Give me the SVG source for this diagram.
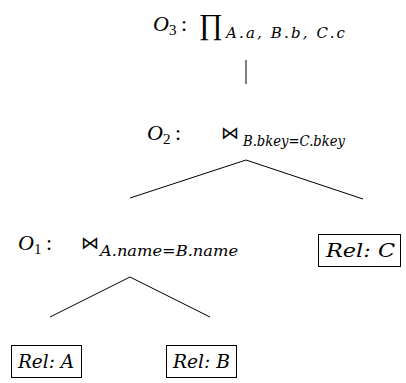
<svg xmlns="http://www.w3.org/2000/svg" width="406" height="383" viewBox="0 0 406 383">
  <style>
    text { font-family: "Liberation Serif", "DejaVu Serif", serif; fill: #000; }
    .op { font-size: 22px; font-style: italic; }
    .idx { font-size: 15px; }
    .col { font-size: 22px; }
    .sym { font-family: "DejaVu Serif", serif; font-size: 18px; }
    .prod { font-size: 29px; }
    .sub { font-family: "DejaVu Serif", serif; font-size: 15px; font-style: italic; }
    .rel { font-family: "DejaVu Serif", serif; font-size: 19px; font-style: italic; }
    .box { fill: #fff; stroke: #000; stroke-width: 1; }
    .edge { fill: none; stroke: #000; stroke-width: 1; }
  </style>

  <!-- connectors -->
  <g id="edges">
    <line class="edge" x1="246" y1="60" x2="246" y2="84"/>
    <polyline class="edge" points="130,198 246,160 363,199"/>
    <polyline class="edge" points="50,317 130,277 210,317"/>
  </g>

  <!-- projection operator -->
  <g id="O3">
    <text class="op" x="153" y="31">O</text>
    <text class="idx" x="169" y="35">3</text>
    <text class="col" x="181" y="31">:</text>
    <text class="prod" x="199" y="34">∏</text>
    <text class="sub" x="226" y="38" textLength="119" lengthAdjust="spacing">A.a, B.b, C.c</text>
  </g>

  <!-- join on bkey -->
  <g id="O2">
    <text class="op" x="147" y="140">O</text>
    <text class="idx" x="163" y="144">2</text>
    <text class="col" x="175" y="140">:</text>
    <text class="sym" x="221" y="139">⋈</text>
    <text class="sub" x="243" y="146" textLength="102" lengthAdjust="spacingAndGlyphs">B.bkey=C.bkey</text>
  </g>

  <!-- join on name -->
  <g id="O1">
    <text class="op" x="18" y="250">O</text>
    <text class="idx" x="34" y="254">1</text>
    <text class="col" x="46" y="250">:</text>
    <text class="sym" x="81" y="249">⋈</text>
    <text class="sub" x="100" y="256" textLength="138" lengthAdjust="spacingAndGlyphs">A.name=B.name</text>
  </g>

  <g id="relC">
    <rect class="box" x="318.5" y="234.5" width="82" height="32"/>
    <text class="rel" x="326" y="257" textLength="69" lengthAdjust="spacingAndGlyphs">Rel:  C</text>
  </g>

  <g id="relA">
    <rect class="box" x="11.5" y="345.5" width="70" height="32"/>
    <text class="rel" x="18" y="368" textLength="56" lengthAdjust="spacingAndGlyphs">Rel:  A</text>
  </g>

  <g id="relB">
    <rect class="box" x="166.5" y="345.5" width="70" height="32"/>
    <text class="rel" x="173" y="368" textLength="57" lengthAdjust="spacingAndGlyphs">Rel:  B</text>
  </g>
</svg>
